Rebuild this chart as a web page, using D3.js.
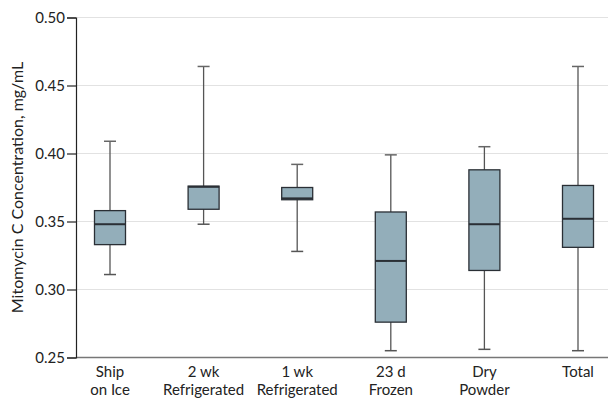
<!DOCTYPE html>
<html>
<head>
    <script src="https://d3js.org/d3.v7.min.js"></script>
    <style>
        body { margin: 0; background: #fff; }
        text { font-family: "Lato", "Liberation Sans", sans-serif; }
    </style>
</head>
<body>
    <div id="container"></div>
    <script>
        const width = 608;
        const height = 416;

        const categories = ['Ship\non Ice', '2 wk\nRefrigerated', '1 wk\nRefrigerated', '23 d\nFrozen', 'Dry\nPowder', 'Total'];
        const mins    = [0.311, 0.348, 0.328, 0.255, 0.256, 0.255];
        const q1s     = [0.333, 0.359, 0.366, 0.276, 0.314, 0.331];
        const medians = [0.348, 0.3755, 0.367, 0.321, 0.348, 0.352];
        const q3s     = [0.358, 0.376, 0.375, 0.357, 0.388, 0.3765];
        const maxs    = [0.409, 0.464, 0.392, 0.399, 0.405, 0.464];
        const yTicks = [0.25, 0.30, 0.35, 0.40, 0.45, 0.50];

        const x = d3.scalePoint()
            .domain(categories)
            .range([110, 578]);

        const y = d3.scaleLinear()
            .domain([0.25, 0.50])
            .range([357.5, 17.5]);

        const axisLeftX = 76;
        const boxW = 31;
        const capW = 12;

        const svg = d3.select("#container").append("svg")
            .attr("width", width)
            .attr("height", height);

        // gridlines
        svg.append("g")
            .selectAll("line")
            .data(yTicks.slice(1))
            .join("line")
            .attr("x1", axisLeftX)
            .attr("x2", width)
            .attr("y1", d => y(d))
            .attr("y2", d => y(d))
            .attr("stroke", "#e2e2e2")
            .attr("stroke-width", 1.2);

        const boxes = svg.append("g")
            .selectAll("g")
            .data(categories)
            .join("g");

        // whiskers
        boxes.append("line")
            .attr("x1", d => x(d))
            .attr("x2", d => x(d))
            .attr("y1", (d, i) => y(mins[i]))
            .attr("y2", (d, i) => y(maxs[i]))
            .attr("stroke", "#555")
            .attr("stroke-width", 1.3);

        boxes.append("line")
            .attr("x1", d => x(d) - capW / 2)
            .attr("x2", d => x(d) + capW / 2)
            .attr("y1", (d, i) => y(mins[i]))
            .attr("y2", (d, i) => y(mins[i]))
            .attr("stroke", "#555")
            .attr("stroke-width", 1.5);

        boxes.append("line")
            .attr("x1", d => x(d) - capW / 2)
            .attr("x2", d => x(d) + capW / 2)
            .attr("y1", (d, i) => y(maxs[i]))
            .attr("y2", (d, i) => y(maxs[i]))
            .attr("stroke", "#666")
            .attr("stroke-width", 1.5);

        boxes.append("rect")
            .attr("x", d => x(d) - boxW / 2)
            .attr("width", boxW)
            .attr("y", (d, i) => y(q3s[i]))
            .attr("height", (d, i) => y(q1s[i]) - y(q3s[i]))
            .attr("fill", "#93aeba")
            .attr("stroke", "#2a2f35")
            .attr("stroke-width", 1.3);

        boxes.append("line")
            .attr("x1", d => x(d) - boxW / 2)
            .attr("x2", d => x(d) + boxW / 2)
            .attr("y1", (d, i) => y(medians[i]))
            .attr("y2", (d, i) => y(medians[i]))
            .attr("stroke", "#2a2f35")
            .attr("stroke-width", 2);

        // x axis
        svg.append("line")
            .attr("x1", axisLeftX)
            .attr("x2", width)
            .attr("y1", y(0.25))
            .attr("y2", y(0.25))
            .attr("stroke", "#777")
            .attr("stroke-width", 1.5);

        const xLabels = svg.append("g")
            .selectAll("text")
            .data(categories)
            .join("text")
            .attr("x", d => x(d))
            .attr("y", 377)
            .attr("text-anchor", "middle")
            .attr("font-size", 15)
            .attr("fill", "#222");

        xLabels.selectAll("tspan")
            .data(d => d.split("\n"))
            .join("tspan")
            .attr("x", function() { return this.parentNode.getAttribute("x"); })
            .attr("dy", (d, i) => i === 0 ? 0 : 18)
            .text(d => d);

        // y axis
        const yAxis = svg.append("g")
            .attr("transform", `translate(${axisLeftX},0)`)
            .call(d3.axisLeft(y).tickValues(yTicks).tickFormat(d3.format(".2f")).tickSize(9).tickPadding(2));

        yAxis.select(".domain").attr("stroke", "#222").attr("stroke-width", 1.2);
        yAxis.selectAll(".tick line").attr("stroke", "#222").attr("stroke-width", 1.2);
        yAxis.selectAll(".tick text")
            .attr("font-size", 15)
            .attr("font-family", "Lato, 'Liberation Sans', sans-serif")
            .attr("fill", "#222");

        svg.append("text")
            .attr("transform", `translate(23,${y(0.375)}) rotate(-90)`)
            .attr("text-anchor", "middle")
            .attr("font-size", 16)
            .attr("fill", "#222")
            .text("Mitomycin C Concentration, mg/mL");
    </script>
</body>
</html>
